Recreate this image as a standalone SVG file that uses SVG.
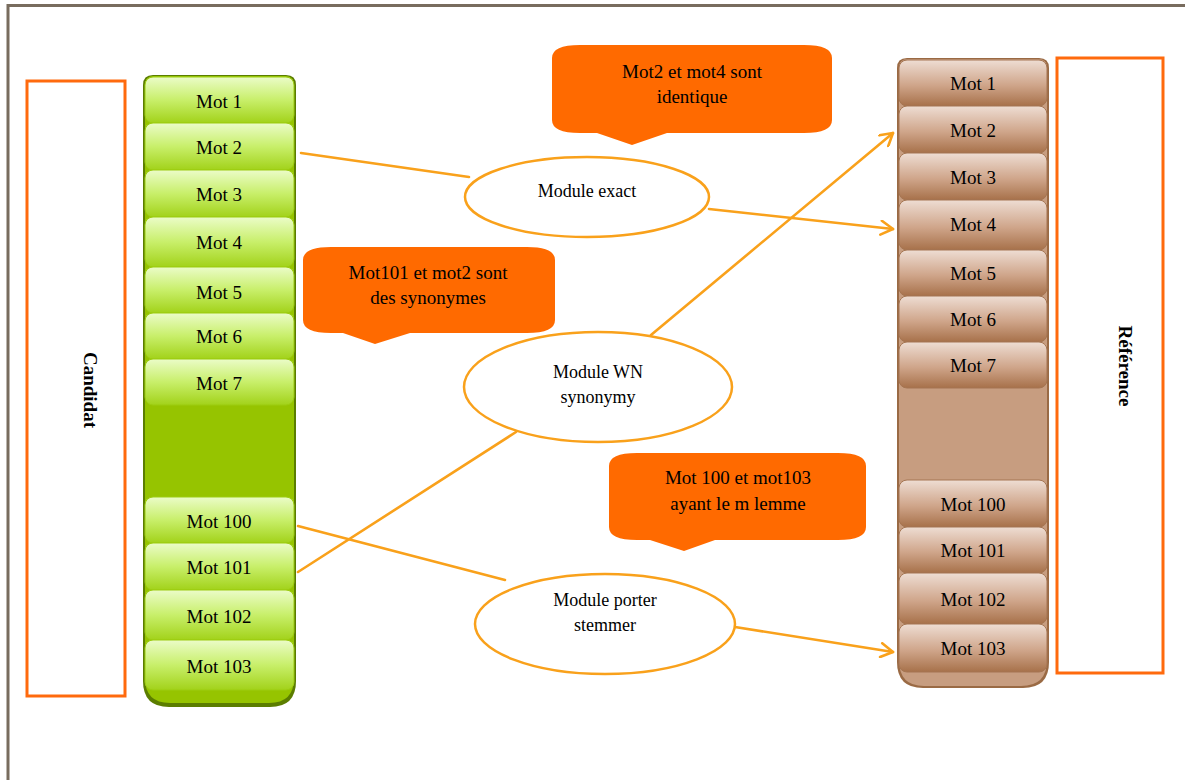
<svg xmlns="http://www.w3.org/2000/svg" width="1185" height="780" viewBox="0 0 1185 780">
  <defs>
    <linearGradient id="gItem" x1="0" y1="0" x2="0" y2="1">
      <stop offset="0" stop-color="#ebfcc8"/>
      <stop offset="0.5" stop-color="#c8ef6a"/>
      <stop offset="1" stop-color="#a2d21a"/>
    </linearGradient>
    <linearGradient id="bItem" x1="0" y1="0" x2="0" y2="1">
      <stop offset="0" stop-color="#eeddd3"/>
      <stop offset="0.55" stop-color="#cfa58a"/>
      <stop offset="1" stop-color="#a7714a"/>
    </linearGradient>
    <marker id="arrow" viewBox="0 0 16 16" refX="14" refY="8" markerWidth="16" markerHeight="16" markerUnits="userSpaceOnUse" orient="auto">
      <path d="M2,1 L14,8 L2,15" fill="none" stroke="#f9a11b" stroke-width="2.6" stroke-linecap="round" stroke-linejoin="round"/>
    </marker>
  </defs>
  <style>
    .frame { fill: none; stroke: #786c5e; stroke-width: 3; }
    .side { fill: #ffffff; stroke: #ff6a0d; stroke-width: 3; }
    .side-label { font-family: "Liberation Serif", "Times New Roman", serif; font-size: 19px; font-weight: bold; fill: #000; text-anchor: middle; }
    .gi { fill: url(#gItem); stroke: #9ccc10; stroke-width: 1; }
    .bi { fill: url(#bItem); stroke: #a57552; stroke-width: 1; }
    .word { font-family: "Liberation Serif", "Times New Roman", serif; font-size: 19px; fill: #000; text-anchor: middle; }
    .mod { fill: #ffffff; stroke: #f9a11b; stroke-width: 2.5; }
    .mod-label { font-family: "Liberation Serif", "Times New Roman", serif; font-size: 18px; fill: #000; text-anchor: middle; }
    .note { fill: #ff6a00; }
    .note-label { font-family: "Liberation Serif", "Times New Roman", serif; font-size: 19px; fill: #000; text-anchor: middle; }
    .link { fill: none; stroke: #f9a11b; stroke-width: 2.6; stroke-linecap: round; }
  </style>

  <!-- page frame -->
  <path class="frame" d="M8,780 L8,5.5 L1185,5.5"/>

  <!-- left label box -->
  <g id="candidat">
    <rect class="side" x="27" y="81" width="98" height="615"/>
    <text class="side-label" transform="translate(84,390) rotate(90)">Candidat</text>
  </g>

  <!-- right label box -->
  <g id="reference">
    <rect class="side" x="1057" y="58" width="106" height="615"/>
    <text class="side-label" transform="translate(1119,366) rotate(90)">Référence</text>
  </g>

  <!-- candidate word column -->
  <g id="candidate-column">
    <path d="M153,75 L286,75 Q296,75 296,85 L296,681 Q296,707 270,707 L169,707 Q143,707 143,681 L143,85 Q143,75 153,75 Z" fill="#5b7d00"/>
    <path d="M154,76 L285,76 Q294,76 294,85 L294,678 Q294,703 269,703 L170,703 Q145,703 145,678 L145,85 Q145,76 154,76 Z" fill="#96c400"/>
  </g>
  <g id="c-mot1"><rect class="gi" x="145" y="77" width="149" height="46" rx="8"/><text class="word" x="219" y="108">Mot 1</text></g>
  <g id="c-mot2"><rect class="gi" x="145" y="123" width="149" height="47" rx="8"/><text class="word" x="219" y="154">Mot 2</text></g>
  <g id="c-mot3"><rect class="gi" x="145" y="170" width="149" height="47" rx="8"/><text class="word" x="219" y="201">Mot 3</text></g>
  <g id="c-mot4"><rect class="gi" x="145" y="217" width="149" height="50" rx="8"/><text class="word" x="219" y="249">Mot 4</text></g>
  <g id="c-mot5"><rect class="gi" x="145" y="267" width="149" height="46" rx="8"/><text class="word" x="219" y="299">Mot 5</text></g>
  <g id="c-mot6"><rect class="gi" x="145" y="313" width="149" height="46" rx="8"/><text class="word" x="219" y="343">Mot 6</text></g>
  <g id="c-mot7"><rect class="gi" x="145" y="359" width="149" height="46" rx="8"/><text class="word" x="219" y="390">Mot 7</text></g>
  <g id="c-mot100"><rect class="gi" x="145" y="497" width="149" height="46" rx="8"/><text class="word" x="219" y="528">Mot 100</text></g>
  <g id="c-mot101"><rect class="gi" x="145" y="543" width="149" height="47" rx="8"/><text class="word" x="219" y="574">Mot 101</text></g>
  <g id="c-mot102"><rect class="gi" x="145" y="590" width="149" height="50" rx="8"/><text class="word" x="219" y="623">Mot 102</text></g>
  <g id="c-mot103"><rect class="gi" x="145" y="640" width="149" height="50" rx="8"/><text class="word" x="219" y="673">Mot 103</text></g>

  <!-- reference word column -->
  <g id="reference-column">
    <path d="M907,58 L1039,58 Q1049,58 1049,68 L1049,662 Q1049,688 1023,688 L923,688 Q897,688 897,662 L897,68 Q897,58 907,58 Z" fill="#9a6a44"/>
    <path d="M908,59 L1038,59 Q1047,59 1047,68 L1047,660 Q1047,686 1021,686 L924,686 Q899,686 899,660 L899,68 Q899,59 908,59 Z" fill="#c79d80"/>
  </g>
  <g id="r-mot1"><rect class="bi" x="899" y="60" width="148" height="46" rx="8"/><text class="word" x="973" y="90">Mot 1</text></g>
  <g id="r-mot2"><rect class="bi" x="899" y="106" width="148" height="47" rx="8"/><text class="word" x="973" y="137">Mot 2</text></g>
  <g id="r-mot3"><rect class="bi" x="899" y="153" width="148" height="47" rx="8"/><text class="word" x="973" y="184">Mot 3</text></g>
  <g id="r-mot4"><rect class="bi" x="899" y="200" width="148" height="50" rx="8"/><text class="word" x="973" y="231">Mot 4</text></g>
  <g id="r-mot5"><rect class="bi" x="899" y="250" width="148" height="46" rx="8"/><text class="word" x="973" y="280">Mot 5</text></g>
  <g id="r-mot6"><rect class="bi" x="899" y="296" width="148" height="46" rx="8"/><text class="word" x="973" y="326">Mot 6</text></g>
  <g id="r-mot7"><rect class="bi" x="899" y="342" width="148" height="46" rx="8"/><text class="word" x="973" y="372">Mot 7</text></g>
  <g id="r-mot100"><rect class="bi" x="899" y="480" width="148" height="47" rx="8"/><text class="word" x="973" y="511">Mot 100</text></g>
  <g id="r-mot101"><rect class="bi" x="899" y="527" width="148" height="46" rx="8"/><text class="word" x="973" y="557">Mot 101</text></g>
  <g id="r-mot102"><rect class="bi" x="899" y="573" width="148" height="51" rx="8"/><text class="word" x="973" y="606">Mot 102</text></g>
  <g id="r-mot103"><rect class="bi" x="899" y="624" width="148" height="48" rx="8"/><text class="word" x="973" y="655">Mot 103</text></g>

  <!-- connectors -->
  <g id="connectors">
    <line class="link" x1="301" y1="153" x2="469" y2="177"/>
    <line class="link" x1="709" y1="209" x2="893" y2="229" marker-end="url(#arrow)"/>
    <line class="link" x1="651" y1="335" x2="893" y2="133" marker-end="url(#arrow)"/>
    <line class="link" x1="298" y1="572" x2="516" y2="432"/>
    <line class="link" x1="298" y1="526" x2="505" y2="580"/>
    <line class="link" x1="735" y1="627" x2="893" y2="652" marker-end="url(#arrow)"/>
  </g>

  <!-- matching modules -->
  <g id="module-exact">
    <ellipse class="mod" cx="587" cy="197" rx="122" ry="40"/>
    <text class="mod-label" x="587" y="197">Module exact</text>
  </g>
  <g id="module-wn">
    <ellipse class="mod" cx="598" cy="387" rx="134" ry="55"/>
    <text class="mod-label" x="598" y="378">Module WN</text>
    <text class="mod-label" x="598" y="403">synonymy</text>
  </g>
  <g id="module-porter">
    <ellipse class="mod" cx="605" cy="624" rx="130" ry="50"/>
    <text class="mod-label" x="605" y="606">Module porter</text>
    <text class="mod-label" x="605" y="631">stemmer</text>
  </g>

  <!-- callouts -->
  <g id="note-exact">
    <path class="note" d="M580,45 L804,45 Q832,45 832,58 L832,120 Q832,133 804,133 L667,133 L632,145 L597,133 L580,133 Q552,133 552,120 L552,58 Q552,45 580,45 Z"/>
    <text class="note-label" x="692" y="78">Mot2 et mot4 sont</text>
    <text class="note-label" x="692" y="103">identique</text>
  </g>
  <g id="note-synonym">
    <path class="note" d="M331,247 L527,247 Q555,247 555,260 L555,320 Q555,333 527,333 L410,333 L375,344 L343,333 L331,333 Q303,333 303,320 L303,260 Q303,247 331,247 Z"/>
    <text class="note-label" x="428" y="279">Mot101 et mot2 sont</text>
    <text class="note-label" x="428" y="304">des synonymes</text>
  </g>
  <g id="note-lemma">
    <path class="note" d="M637,453 L838,453 Q866,453 866,466 L866,527 Q866,540 838,540 L715,540 L684,551 L650,540 L637,540 Q609,540 609,527 L609,466 Q609,453 637,453 Z"/>
    <text class="note-label" x="738" y="484">Mot 100 et mot103</text>
    <text class="note-label" x="738" y="510">ayant le m lemme</text>
  </g>
</svg>
